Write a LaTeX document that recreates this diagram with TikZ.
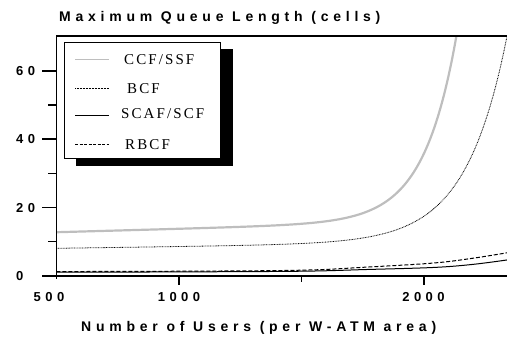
\documentclass[tikz,border=0pt]{standalone}
\usepackage{fontspec}
\setmainfont{Liberation Serif}
\setsansfont{Liberation Sans}
\usepackage{tikz}
\usetikzlibrary{positioning}
\newfontfamily\axisfont{Liberation Sans}[LetterSpace=34]
\newfontfamily\legfont{Liberation Serif}[LetterSpace=14]
\definecolor{ccfgray}{RGB}{190,190,190}

\begin{document}
\begin{tikzpicture}[x=1pt,y=1pt,
  axisline/.style={line width=1.3pt,black},
  majtick/.style={line width=1.5pt},
  mintick/.style={line width=1.2pt},
  numlbl/.style={font=\axisfont\bfseries\fontsize{13}{13}\selectfont,inner sep=0pt},
  axtitle/.style={font=\axisfont\bfseries\fontsize{14}{14}\selectfont,inner sep=0pt,anchor=base west},
  legtext/.style={font=\legfont\fontsize{15}{15}\selectfont,inner sep=0pt,anchor=base west},
  ccf/.style={line width=2.2pt,ccfgray},
  bcf/.style={line width=0.8pt,dash pattern=on 0.8pt off 0.8pt},
  scaf/.style={line width=1pt},
  rbcf/.style={line width=1pt,dash pattern=on 4pt off 2pt}
]
\useasboundingbox (0,0) rectangle (507,338);

% titles
\node[axtitle] (ytitle) at (59,316.5) {Maximum Queue Length (cells)};
\node[axtitle] (xtitle) at (81,6.7) {Number of Users (per W-ATM area)};

% data area: x in users, y in cells
\begin{scope}[shift={(-66,62)},x=0.245pt,y=3.42pt]
  \begin{scope}
    \clip (500,0) rectangle (2340,70.2);
    \draw[ccf] plot[domain=500:2140,samples=120,smooth]
      (\x,{12.8+0.002*(\x-500)+54.4*exp(0.0075*(\x-2133))});
    \draw[bcf] plot[domain=500:2345,samples=120,smooth]
      (\x,{8.1+0.001*(\x-500)+60.56*exp(0.006*(\x-2340))});
    \draw[rbcf] plot[smooth,tension=0.6] coordinates {(500,1.3) (1000,1.4) (1500,1.7) (1766,2.6)
      (2040,3.8) (2200,5.2) (2340,6.8)};
    \draw[scaf] plot[smooth,tension=0.6] coordinates {(500,1.1) (1000,1.2) (1500,1.4) (1766,1.9)
      (2040,2.5) (2200,3.4) (2340,4.7)};
  \end{scope}
  % frame and axes
  \draw[axisline] (500,70.2) -- (2340,70.2);
  \draw[ccfgray,line width=0.6pt] (2338,70.2) -- (2338,0);
  \draw[axisline] (500,70.2) -- (500,-1);
  \draw[axisline] (500,0) -- (2340,0);
  \foreach \v in {0,20,40,60} \draw[majtick] (500,\v) -- ++(-14pt,0);
  \foreach \v in {10,30,50} \draw[mintick] (500,\v) -- ++(-8pt,0);
  \foreach \u in {1000,2000} \draw[majtick] (\u,0.3) -- ++(0,-10pt);
  \draw[mintick] (1500,0) -- ++(0,-6pt);
\end{scope}

% tick labels
\foreach \v in {0,20,40,60} \node[numlbl,anchor=west] (ylbl\v) at (16,{62+3.42*\v}) {\v};
\node[numlbl] (xlbl500)  at (49,41) {500};
\node[numlbl] (xlbl1000) at (179,41) {1000};
\node[numlbl] (xlbl2000) at (423.5,41) {2000};

% legend
\fill[black] (75.5,289) rectangle (232.7,172.3);
\draw[fill=white,line width=0.7pt] (64,295.7) rectangle (220.7,179.7);
\coordinate (k1) at (75,278);
\coordinate (k2) at (75,250);
\coordinate (k3) at (75,223);
\coordinate (k4) at (75,194);
\draw[ccfgray,line width=1pt] (k1) -- ++(34,0);
\draw[line width=0.7pt,dash pattern=on 0.6pt off 0.9pt] (k2) -- ++(34,0);
\draw[line width=0.9pt] (k3) -- ++(34,0);
\draw[line width=0.8pt,dash pattern=on 3pt off 1.5pt] (k4) -- ++(34,0);
\node[legtext] (leg1) at (124,273.5) {CCF/SSF};
\node[legtext] (leg2) at (127,244) {BCF};
\node[legtext] (leg3) at (121,219.5) {SCAF/SCF};
\node[legtext] (leg4) at (125,188.5) {RBCF};
\end{tikzpicture}
\end{document}
